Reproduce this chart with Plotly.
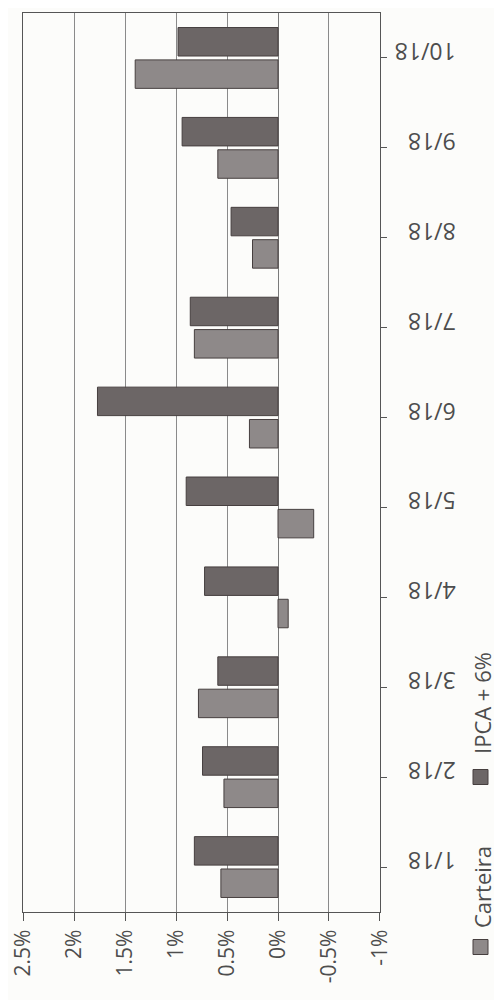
import plotly.graph_objects as go

# ---- data ----
categories = ["1/18", "2/18", "3/18", "4/18", "5/18", "6/18", "7/18", "8/18", "9/18", "10/18"]
carteira = [0.56, 0.53, 0.78, -0.10, -0.35, 0.28, 0.82, 0.25, 0.59, 1.40]
ipca_6 = [0.82, 0.74, 0.59, 0.72, 0.90, 1.77, 0.86, 0.46, 0.94, 0.98]
series_names = ["Carteira", "IPCA + 6%"]
x_tick_vals = [2.5, 2.0, 1.5, 1.0, 0.5, 0.0, -0.5, -1.0]
x_tick_text = ["2.5%", "2%", "1.5%", "1%", "0.5%", "0%", "-0.5%", "-1%"]

# ---- styles ----
COL_CART = "#8e8989"
COL_IPCA = "#6c6666"
COL_EDGE = "#463f3f"
TXT = "#4d4d4d"
FONT = "Open Sans"

OFF = 8  # page body margin
W, H = 502 - OFF, 1000 - OFF
L, T = 23 - OFF, 13 - OFF
R = W - (380 - OFF)
B = H - (912 - OFF)
pw, ph = W - L - R, H - T - B


def px(x):
    return (x - OFF - L) / pw


def py(y):
    return (H - B - (y - OFF)) / ph


fig = go.Figure()
fig.add_trace(go.Bar(y=categories, x=carteira, name=series_names[0], orientation="h",
                     marker=dict(color=COL_CART, line=dict(color=COL_EDGE, width=1))))
fig.add_trace(go.Bar(y=categories, x=ipca_6, name=series_names[1], orientation="h",
                     marker=dict(color=COL_IPCA, line=dict(color=COL_EDGE, width=1))))

fig.update_layout(
    width=W, height=H,
    margin=dict(l=L, r=R, t=T, b=B, autoexpand=False),
    paper_bgcolor="#fcfcfa", plot_bgcolor="#fcfcfa",
    barmode="group", bargap=0.28, bargroupgap=0.12,
    showlegend=False,
    font=dict(family=FONT, color=TXT),
)
fig.update_xaxes(
    automargin=False,
    range=[2.5001, -1.0001], tickvals=x_tick_vals, ticktext=x_tick_text,
    tickangle=-90, tickfont=dict(size=21, color=TXT, family=FONT),
    ticklabeloverflow="allow",
    showgrid=True, gridcolor="#8a8a8a", gridwidth=1,
    zeroline=True, zerolinecolor="#7a7a7a", zerolinewidth=1.2,
    showline=True, linecolor="#555555", linewidth=1.3, mirror=True,
    ticks="outside", ticklen=8, tickcolor="#555555",
)
fig.update_yaxes(
    automargin=False,
    type="category", categoryorder="array", categoryarray=categories,
    side="right", tickangle=180, tickfont=dict(size=23, color=TXT, family=FONT),
    ticklabelstandoff=64, ticklabeloverflow="allow",
    showgrid=False, zeroline=False,
    showline=True, linecolor="#555555", linewidth=1.3, mirror=True,
    ticks="outside", ticklen=6, tickcolor="#555555",
)

# legend (rotated, drawn as annotations + swatches)
legend_items = [(series_names[0], COL_CART, 947, 887), (series_names[1], COL_IPCA, 777, 703)]
for name, col, sq_y, txt_y in legend_items:
    fig.add_shape(type="rect", xref="paper", yref="paper",
                  x0=px(473), x1=px(488), y0=py(sq_y + 7.5), y1=py(sq_y - 7.5),
                  fillcolor=col, line=dict(color=COL_EDGE, width=1))
    fig.add_annotation(xref="paper", yref="paper", x=px(482), y=py(txt_y),
                       text=name, textangle=-90, showarrow=False,
                       xanchor="center", yanchor="middle",
                       font=dict(size=22, color=TXT, family=FONT))

fig.write_html("out.html")
